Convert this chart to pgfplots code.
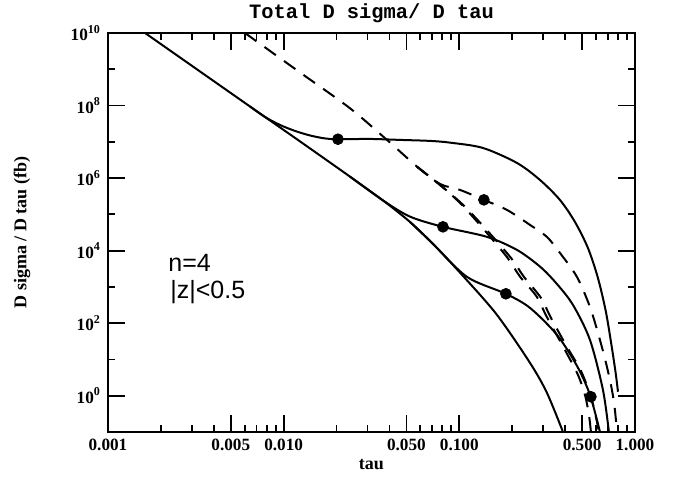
\documentclass[border=0pt]{standalone}
\usepackage{fontspec}
\setmainfont{Liberation Serif}
\newfontfamily\titlefont{Liberation Mono}
\newfontfamily\helv{Liberation Sans}
\usepackage{pgfplots}
\pgfplotsset{compat=1.18}
\newcommand\tl[1]{10\textsuperscript{#1}}

\begin{document}
\begin{tikzpicture}
\path[use as bounding box] (-54pt,-23.5pt) rectangle (290pt,216pt);
\begin{axis}[
  at={(0,0)}, anchor=south west,
  scale only axis, width=263.5pt, height=199.5pt,
  xmode=log, ymode=log,
  xmin=0.001, xmax=1, ymin=0.1, ymax=1e10,
  xtick={0.001,0.005,0.01,0.05,0.1,0.5,1},
  xticklabels={0.001,0.005,0.010,0.050,0.100,0.500,1.000},
  minor xtick={0.002,0.003,0.004,0.006,0.007,0.008,0.009,
               0.02,0.03,0.04,0.06,0.07,0.08,0.09,
               0.2,0.3,0.4,0.6,0.7,0.8,0.9},
  ytick={1,1e2,1e4,1e6,1e8,1e10},
  yticklabels={\tl{0},\tl{2},\tl{4},\tl{6},\tl{8},\tl{10}},
  minor ytick={10,1e3,1e5,1e7,1e9},
  tick align=inside,
  major tick length=8.5pt, minor tick length=3.5pt,
  every tick/.style={black, line width=0.9pt},
  axis line style={line width=1pt},
  tick label style={font=\fontsize{8.6}{10}\selectfont\bfseries},
  xlabel={tau}, ylabel={D sigma / D tau (fb)},
  label style={font=\fontsize{9}{11}\selectfont\bfseries},
  xlabel style={at={(axis description cs:0.5,-0.0827)}, anchor=center},
  ylabel style={at={(axis description cs:-0.1632,0.5)}, anchor=center},
  title={Total D sigma/ D tau},
  every axis title shift=0pt,
  title style={font=\titlefont\bfseries\fontsize{10.2}{12}\selectfont,
               at={(axis description cs:0.5,1.0501)}, anchor=center},
  sl/.style={black, solid, line width=1pt, smooth, mark=none},
  dl/.style={black, line width=1pt, smooth, mark=none, dash pattern=on 7pt off 5pt},
]
% solid: base curve
\addplot[sl] coordinates {(0.001626,1e10) (0.006430,9.44e7) (0.01238,1.03e7)
  (0.02384,1.10e6) (0.03673,2.43e5) (0.05233,6.21e4) (0.07077,1.54e4)
  (0.1048,2023) (0.1637,170) (0.2523,8.11) (0.3151,1.21) (0.3887,0.102)};
% solid branches
\addplot[sl] coordinates {(0.006430,9.44e7) (0.007825,4.85e7) (0.009528,2.92e7)
  (0.01159,2.0e7) (0.01411,1.50e7) (0.01718,1.24e7) (0.02037,1.18e7)
  (0.03097,1.20e7) (0.04592,1.13e7) (0.06808,1.06e7) (0.0885,9.5e6)
  (0.1361,6.79e6) (0.2128,2.62e6) (0.2877,8.9e5) (0.3737,2.51e5)
  (0.4550,6.21e4) (0.5394,1.19e4) (0.6149,1782) (0.6830,206) (0.7388,21.0)
  (0.7786,3.79) (0.80,1.29)};
\addplot[sl] coordinates {(0.02384,1.10e6) (0.03673,2.43e5) (0.05234,8.69e4)
  (0.0807,4.53e4) (0.1436,2.40e4) (0.2128,1.05e4) (0.2876,3647)
  (0.3547,1297) (0.4432,321) (0.5538,34.9) (0.6569,1.46) (0.7101,0.102)};
\addplot[sl] coordinates {(0.05233,6.21e4) (0.07077,1.54e4) (0.1105,1897)
  (0.1841,646) (0.2523,265) (0.3594,47.9) (0.4670,6.70) (0.5538,1.07)
  (0.6313,0.102)};
% dashed family
\addplot[dl] coordinates {(0.006021,1e10)
  (0.01238,8.2e8) (0.02384,8.43e7) (0.03873,1.13e7) (0.05741,2.07e6)
  (0.07755,6.50e5) (0.1008,2.07e5) (0.1310,5.14e4) (0.1858,6870)
  (0.2213,1936) (0.2754,545) (0.3139,153) (0.4044,16.3) (0.4732,3.79)
  (0.5187,1.07) (0.5466,0.300) (0.561,0.102)};
\addplot[dl] coordinates {(0.05741,2.07e6)
  (0.07755,6.92e5) (0.1008,4.73e5) (0.1380,2.51e5) (0.1866,1.33e5)
  (0.2523,5.14e4) (0.3151,2.40e4) (0.3737,8690) (0.467,1897) (0.5538,283)
  (0.6313,34.9) (0.6920,6.30) (0.7390,1.46) (0.7685,0.411) (0.7889,0.102)};
\addplot[dl] coordinates {(0.05741,2.07e6)
  (0.07755,6.50e5) (0.1035,1.95e5) (0.138,4.53e4) (0.1966,6340)
  (0.2332,1897) (0.2914,501) (0.3321,141) (0.4097,22.4) (0.4921,4.89)
  (0.561,0.938) (0.599,0.264) (0.6231,0.102)};
% threshold points
\addplot[black, only marks, mark=*, mark size=2.7pt] coordinates {(0.02037,1.18e7)
  (0.0807,4.53e4) (0.1841,646) (0.138,2.51e5) (0.561,0.938)};
\node[anchor=west, inner sep=0pt, font=\helv\fontsize{12.5}{14}\selectfont]
  at (axis description cs:0.1139,0.4236) {n=4};
\node[anchor=west, inner sep=0pt, font=\helv\fontsize{12.5}{14}\selectfont]
  at (axis description cs:0.1176,0.3509) {|z|<0.5};
\end{axis}
\end{tikzpicture}
\end{document}
